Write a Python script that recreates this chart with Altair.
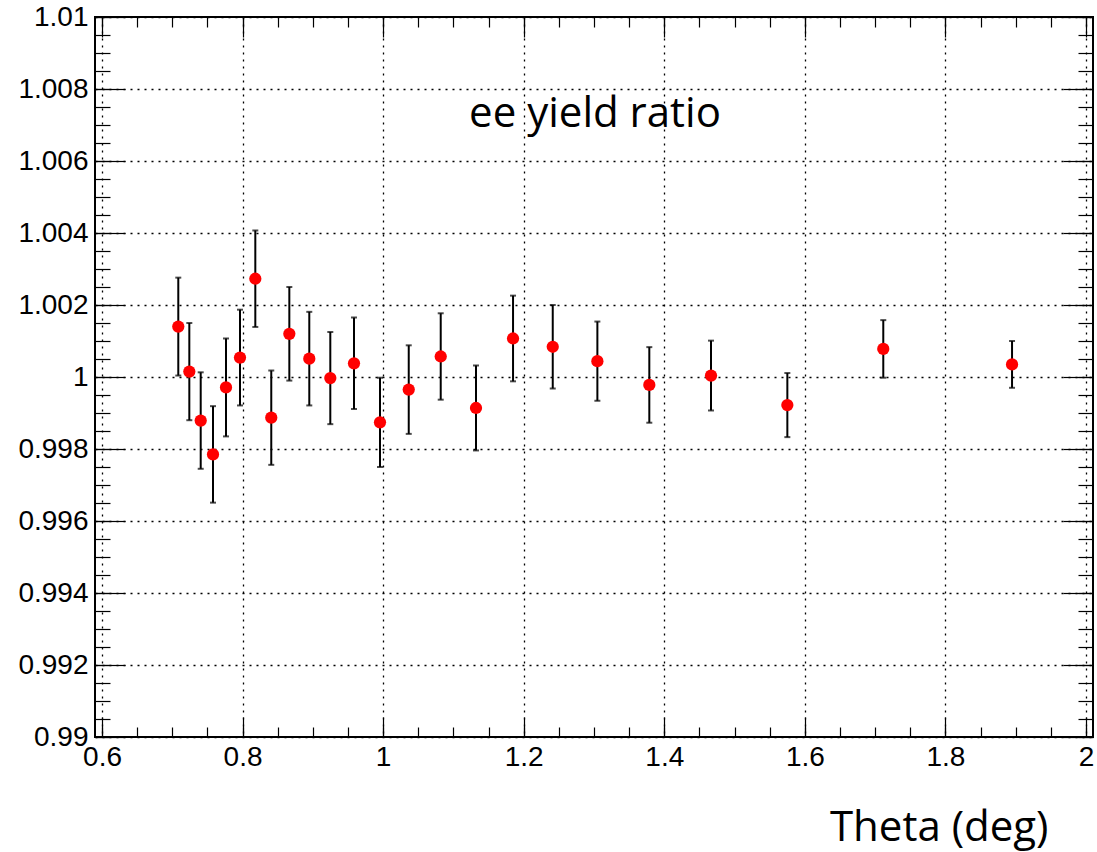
import altair as alt
import pandas as pd

# ---- data ----
THETA = [0.7085, 0.7242, 0.7404, 0.7579, 0.7764, 0.7963, 0.8181, 0.8408,
         0.8665, 0.8949, 0.9248, 0.9585, 0.9955, 1.0364, 1.0819, 1.1321,
         1.1848, 1.2413, 1.3048, 1.3787, 1.4665, 1.5751, 1.7116, 1.8948]
RATIO = [1.00140, 1.00015, 0.99879, 0.99785, 0.99971, 1.00054, 1.00273, 0.99887,
         1.00120, 1.00051, 0.99997, 1.00038, 0.99874, 0.99965, 1.00057, 0.99914,
         1.00107, 1.00084, 1.00044, 0.99978, 1.00004, 0.99922, 1.00078, 1.00035]
ERR = [0.00136, 0.00135, 0.00134, 0.00134, 0.00136, 0.00133, 0.00134, 0.00131,
       0.00130, 0.00130, 0.00128, 0.00127, 0.00124, 0.00123, 0.00120, 0.00118,
       0.00119, 0.00116, 0.00110, 0.00105, 0.00097, 0.00089, 0.00080, 0.00065]

X_MAJOR = [0.6, 0.8, 1.0, 1.2, 1.4, 1.6, 1.8, 2.0]
X_MINOR = [round(0.6 + 0.05 * i, 2) for i in range(29)]
Y_MAJOR = [0.99, 0.992, 0.994, 0.996, 0.998, 1.0, 1.002, 1.004, 1.006, 1.008, 1.01]
Y_MINOR = [round(0.99 + 0.0005 * i, 4) for i in range(41)]

X_TITLE = "Theta (deg)"
ANNOTATION = ["ee yield ratio"]

df = pd.DataFrame({"theta": THETA, "ratio": RATIO, "err": ERR})
df["lo"] = df["ratio"] - df["err"]
df["hi"] = df["ratio"] + df["err"]

XS = alt.Scale(domain=[0.59, 2.01], nice=False, zero=False)
YS = alt.Scale(domain=[0.99, 1.01], nice=False, zero=False)

LABEL_FONT = "Liberation Sans"
TEXT_FONT = "Open Sans"


def tick_axis(values, size, orient):
    return alt.Axis(orient=orient, values=values, tickSize=size, offset=-size,
                    labels=False, domain=False, grid=False, ticks=True,
                    tickColor="black", tickWidth=1.2, title=None)


x_label_axis = alt.Axis(
    orient="bottom", values=X_MAJOR, format="~g", labels=True,
    labelFont=LABEL_FONT, labelFontSize=28, labelColor="black", labelPadding=6,
    labelFlush=False, labelOverlap=False,
    ticks=False, tickSize=0, domain=False,
    grid=True, gridColor="black", gridDash=[2, 5], gridWidth=1.3, gridOpacity=1,
    title=X_TITLE, titleFont=TEXT_FONT, titleFontSize=42, titleFontWeight="normal",
    titleColor="black", titleX=953, titleY=103, titleAlign="right",
    titleBaseline="alphabetic",
)
y_label_axis = alt.Axis(
    orient="left", values=Y_MAJOR, format="~g", labels=True,
    labelFont=LABEL_FONT, labelFontSize=28, labelColor="black", labelPadding=7,
    labelFlush=False, labelOverlap=False,
    ticks=False, tickSize=0, domain=False,
    grid=True, gridColor="black", gridDash=[2, 5], gridWidth=1.3, gridOpacity=1,
    title=None,
)

base = alt.Chart(df)

bars = base.mark_rule(color="black", strokeWidth=2).encode(
    x=alt.X("theta:Q", scale=XS, axis=x_label_axis),
    y=alt.Y("lo:Q", scale=YS, axis=y_label_axis),
    y2="hi:Q",
)
caps_hi = base.mark_tick(orient="horizontal", size=6, thickness=2, color="black").encode(
    x=alt.X("theta:Q", scale=XS, axis=tick_axis(X_MAJOR, 20, "bottom")),
    y=alt.Y("hi:Q", scale=YS, axis=tick_axis(Y_MAJOR, 30, "left")),
)
caps_lo = base.mark_tick(orient="horizontal", size=6, thickness=2, color="black").encode(
    x=alt.X("theta:Q", scale=XS, axis=tick_axis(X_MINOR, 10, "bottom")),
    y=alt.Y("lo:Q", scale=YS, axis=tick_axis(Y_MINOR, 15, "left")),
)
ghost = base.mark_circle(opacity=0).encode(
    x=alt.X("theta:Q", scale=XS, axis=tick_axis(X_MAJOR, 20, "top")),
    y=alt.Y("ratio:Q", scale=YS, axis=tick_axis(Y_MAJOR, 30, "right")),
)
points = base.mark_circle(color="#ff0000", size=150, opacity=1).encode(
    x=alt.X("theta:Q", scale=XS, axis=tick_axis(X_MINOR, 10, "top")),
    y=alt.Y("ratio:Q", scale=YS, axis=tick_axis(Y_MINOR, 15, "right")),
)
label = alt.Chart(pd.DataFrame({"t": ANNOTATION})).mark_text(
    font=TEXT_FONT, fontSize=42, color="black", align="center", baseline="alphabetic"
).encode(x=alt.value(500), y=alt.value(110), text="t:N")

chart = (
    alt.layer(bars, caps_hi, caps_lo, ghost, points, label)
    .resolve_axis(x="independent", y="independent")
    .properties(
        width=998, height=720,
        padding={"left": 95, "top": 17, "right": 4, "bottom": 115},
        autosize=alt.AutoSizeParams(type="none"),
    )
    .configure(background="white")
    .configure_view(stroke="black", strokeWidth=2, fill="white")
)

chart.save("out.html", embed_options={"renderer": "svg", "actions": False})
